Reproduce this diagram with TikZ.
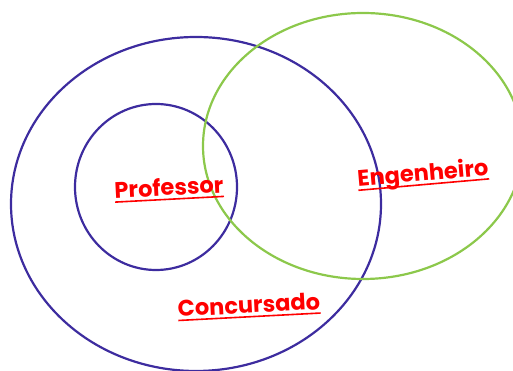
\documentclass[tikz,border=0pt]{standalone}
\usepackage{fontspec}
\newfontfamily\labelfont{Poppins}
\newcommand\labelline[1]{\leavevmode\setbox0\hbox{#1}\rlap{\rule[-4.5pt]{\wd0}{1.6pt}}\box0}
\definecolor{setpurple}{HTML}{3D2C9F}
\definecolor{setgreen}{HTML}{8CC84B}
\definecolor{labelred}{HTML}{FF0000}

\begin{document}
\begin{tikzpicture}[x=1pt,y=1pt,
    setline/.style={line width=2.2pt},
    setlabel/.style={text=labelred,font=\labelfont\bfseries\fontsize{22.5}{27}\selectfont,inner sep=0pt}]
    \useasboundingbox (0,0) rectangle (513,371);
    \clip (0,0) rectangle (513,371);

    % Draw sets
    % concursado
    \draw[setline,setpurple] (196,167) ellipse [x radius=185,y radius=167];
    % professor
    \draw[setline,setpurple] (156,184) ellipse [x radius=81,y radius=83];
    % engenheiro
    \draw[setline,setgreen] (363,225) ellipse [x radius=160,y radius=133];

    % Draw labels
    \node[setlabel,rotate=3] (professor) at (169,182) {\labelline{Professor}};
    \node[setlabel,rotate=5] (engenheiro) at (423,196) {\labelline{Engenheiro}};
    \node[setlabel,rotate=3] (concursado) at (249,64) {\labelline{Concursado}};
\end{tikzpicture}
\end{document}
